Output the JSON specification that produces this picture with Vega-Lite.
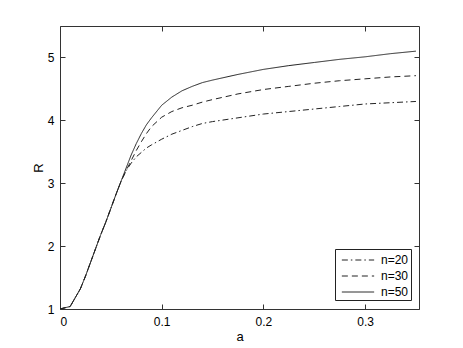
{
  "$schema": "https://vega.github.io/schema/vega-lite/v6.json",
  "autosize": "none",
  "width": 359,
  "height": 283,
  "padding": {"left": 60, "top": 26, "right": 44, "bottom": 39},
  "background": "white",
  "config": {
    "view": {"stroke": "#333", "strokeWidth": 1},
    "font": "Liberation Sans",
    "axis": {
      "domain": false,
      "grid": false,
      "tickSize": -5,
      "tickColor": "#333",
      "labelFont": "Liberation Sans",
      "labelFontSize": 12,
      "labelColor": "black",
      "titleFont": "Liberation Sans",
      "titleFontSize": 13,
      "titleFontWeight": "normal",
      "titleColor": "black"
    }
  },
  "data": {
    "values": [
      {"a": 0, "R": 1.0, "n": "n=20"}, {"a": 0, "R": 1.0, "n": "n=30"}, {"a": 0, "R": 1.0, "n": "n=50"},
      {"a": 0.005, "R": 1.02, "n": "n=20"}, {"a": 0.005, "R": 1.02, "n": "n=30"}, {"a": 0.005, "R": 1.02, "n": "n=50"},
      {"a": 0.01, "R": 1.04, "n": "n=20"}, {"a": 0.01, "R": 1.04, "n": "n=30"}, {"a": 0.01, "R": 1.04, "n": "n=50"},
      {"a": 0.015, "R": 1.18, "n": "n=20"}, {"a": 0.015, "R": 1.18, "n": "n=30"}, {"a": 0.015, "R": 1.18, "n": "n=50"},
      {"a": 0.02, "R": 1.32, "n": "n=20"}, {"a": 0.02, "R": 1.32, "n": "n=30"}, {"a": 0.02, "R": 1.32, "n": "n=50"},
      {"a": 0.025, "R": 1.52, "n": "n=20"}, {"a": 0.025, "R": 1.52, "n": "n=30"}, {"a": 0.025, "R": 1.52, "n": "n=50"},
      {"a": 0.03, "R": 1.74, "n": "n=20"}, {"a": 0.03, "R": 1.74, "n": "n=30"}, {"a": 0.03, "R": 1.74, "n": "n=50"},
      {"a": 0.035, "R": 1.96, "n": "n=20"}, {"a": 0.035, "R": 1.96, "n": "n=30"}, {"a": 0.035, "R": 1.96, "n": "n=50"},
      {"a": 0.04, "R": 2.18, "n": "n=20"}, {"a": 0.04, "R": 2.18, "n": "n=30"}, {"a": 0.04, "R": 2.18, "n": "n=50"},
      {"a": 0.045, "R": 2.38, "n": "n=20"}, {"a": 0.045, "R": 2.38, "n": "n=30"}, {"a": 0.045, "R": 2.38, "n": "n=50"},
      {"a": 0.05, "R": 2.6, "n": "n=20"}, {"a": 0.05, "R": 2.6, "n": "n=30"}, {"a": 0.05, "R": 2.6, "n": "n=50"},
      {"a": 0.055, "R": 2.82, "n": "n=20"}, {"a": 0.055, "R": 2.82, "n": "n=30"}, {"a": 0.055, "R": 2.82, "n": "n=50"},
      {"a": 0.06, "R": 3.03, "n": "n=20"}, {"a": 0.06, "R": 3.03, "n": "n=30"}, {"a": 0.06, "R": 3.03, "n": "n=50"},

      {"a": 0.065, "R": 3.24, "n": "n=50"}, {"a": 0.07, "R": 3.45, "n": "n=50"}, {"a": 0.075, "R": 3.63, "n": "n=50"},
      {"a": 0.08, "R": 3.79, "n": "n=50"}, {"a": 0.085, "R": 3.93, "n": "n=50"}, {"a": 0.09, "R": 4.04, "n": "n=50"},
      {"a": 0.1, "R": 4.24, "n": "n=50"}, {"a": 0.11, "R": 4.37, "n": "n=50"}, {"a": 0.12, "R": 4.47, "n": "n=50"},
      {"a": 0.13, "R": 4.54, "n": "n=50"}, {"a": 0.14, "R": 4.6, "n": "n=50"}, {"a": 0.15, "R": 4.64, "n": "n=50"},
      {"a": 0.175, "R": 4.73, "n": "n=50"}, {"a": 0.2, "R": 4.81, "n": "n=50"}, {"a": 0.225, "R": 4.87, "n": "n=50"},
      {"a": 0.25, "R": 4.92, "n": "n=50"}, {"a": 0.275, "R": 4.97, "n": "n=50"}, {"a": 0.3, "R": 5.01, "n": "n=50"},
      {"a": 0.325, "R": 5.06, "n": "n=50"}, {"a": 0.35, "R": 5.1, "n": "n=50"},

      {"a": 0.065, "R": 3.2, "n": "n=30"}, {"a": 0.07, "R": 3.36, "n": "n=30"}, {"a": 0.075, "R": 3.52, "n": "n=30"},
      {"a": 0.08, "R": 3.66, "n": "n=30"}, {"a": 0.085, "R": 3.79, "n": "n=30"}, {"a": 0.09, "R": 3.9, "n": "n=30"},
      {"a": 0.1, "R": 4.05, "n": "n=30"}, {"a": 0.11, "R": 4.14, "n": "n=30"}, {"a": 0.12, "R": 4.2, "n": "n=30"},
      {"a": 0.13, "R": 4.24, "n": "n=30"}, {"a": 0.14, "R": 4.29, "n": "n=30"}, {"a": 0.15, "R": 4.33, "n": "n=30"},
      {"a": 0.175, "R": 4.42, "n": "n=30"}, {"a": 0.2, "R": 4.49, "n": "n=30"}, {"a": 0.225, "R": 4.54, "n": "n=30"},
      {"a": 0.25, "R": 4.59, "n": "n=30"}, {"a": 0.275, "R": 4.63, "n": "n=30"}, {"a": 0.3, "R": 4.66, "n": "n=30"},
      {"a": 0.325, "R": 4.69, "n": "n=30"}, {"a": 0.35, "R": 4.71, "n": "n=30"},

      {"a": 0.065, "R": 3.2, "n": "n=20"}, {"a": 0.07, "R": 3.32, "n": "n=20"}, {"a": 0.075, "R": 3.42, "n": "n=20"},
      {"a": 0.08, "R": 3.49, "n": "n=20"}, {"a": 0.085, "R": 3.56, "n": "n=20"}, {"a": 0.09, "R": 3.61, "n": "n=20"},
      {"a": 0.1, "R": 3.7, "n": "n=20"}, {"a": 0.11, "R": 3.78, "n": "n=20"}, {"a": 0.12, "R": 3.84, "n": "n=20"},
      {"a": 0.13, "R": 3.9, "n": "n=20"}, {"a": 0.14, "R": 3.95, "n": "n=20"}, {"a": 0.15, "R": 3.98, "n": "n=20"},
      {"a": 0.175, "R": 4.04, "n": "n=20"}, {"a": 0.2, "R": 4.1, "n": "n=20"}, {"a": 0.225, "R": 4.14, "n": "n=20"},
      {"a": 0.25, "R": 4.18, "n": "n=20"}, {"a": 0.275, "R": 4.22, "n": "n=20"}, {"a": 0.3, "R": 4.26, "n": "n=20"},
      {"a": 0.325, "R": 4.28, "n": "n=20"}, {"a": 0.35, "R": 4.3, "n": "n=20"}
    ]
  },
  "layer": [
    {
      "mark": {"type": "line", "stroke": "#222", "strokeWidth": 1, "clip": true},
      "encoding": {
        "x": {
          "field": "a", "type": "quantitative",
          "scale": {"domain": [0, 0.353], "nice": false, "zero": false},
          "axis": {"orient": "bottom", "values": [0, 0.1, 0.2, 0.3], "format": "~g", "title": "a", "labelPadding": 12, "titlePadding": 3}
        },
        "y": {
          "field": "R", "type": "quantitative",
          "scale": {"domain": [1, 5.5], "nice": false, "zero": false},
          "axis": {"orient": "left", "values": [1, 2, 3, 4, 5], "format": "d", "title": "R", "labelPadding": 11, "titlePadding": 2}
        },
        "strokeDash": {
          "field": "n", "type": "nominal",
          "scale": {"domain": ["n=20", "n=30", "n=50"], "range": [[6, 3, 1.5, 3], [6, 4], [1, 0]]},
          "legend": {
            "title": null,
            "orient": "none",
            "legendX": 275,
            "legendY": 223,
            "fillColor": "white",
            "strokeColor": "#222",
            "padding": 2,
            "rowPadding": 1,
            "symbolType": "M-1.9,0H1.9",
            "symbolSize": 289,
            "symbolOffset": 12,
            "symbolStrokeColor": "#222",
            "symbolStrokeWidth": 1,
            "labelOffset": 14,
            "labelFont": "Liberation Sans",
            "labelFontSize": 12,
            "labelColor": "black"
          }
        },
        "order": {"field": "a", "type": "quantitative"}
      }
    },
    {
      "mark": {"type": "line", "opacity": 0},
      "encoding": {
        "x": {
          "field": "a", "type": "quantitative",
          "scale": {"domain": [0, 0.353], "nice": false, "zero": false},
          "axis": {"orient": "top", "values": [0, 0.1, 0.2, 0.3], "labels": false, "title": null}
        },
        "y": {
          "field": "R", "type": "quantitative",
          "scale": {"domain": [1, 5.5], "nice": false, "zero": false},
          "axis": {"orient": "right", "values": [1, 2, 3, 4, 5], "labels": false, "title": null}
        },
        "detail": {"field": "n"}
      }
    }
  ],
  "resolve": {"axis": {"x": "independent", "y": "independent"}}
}
